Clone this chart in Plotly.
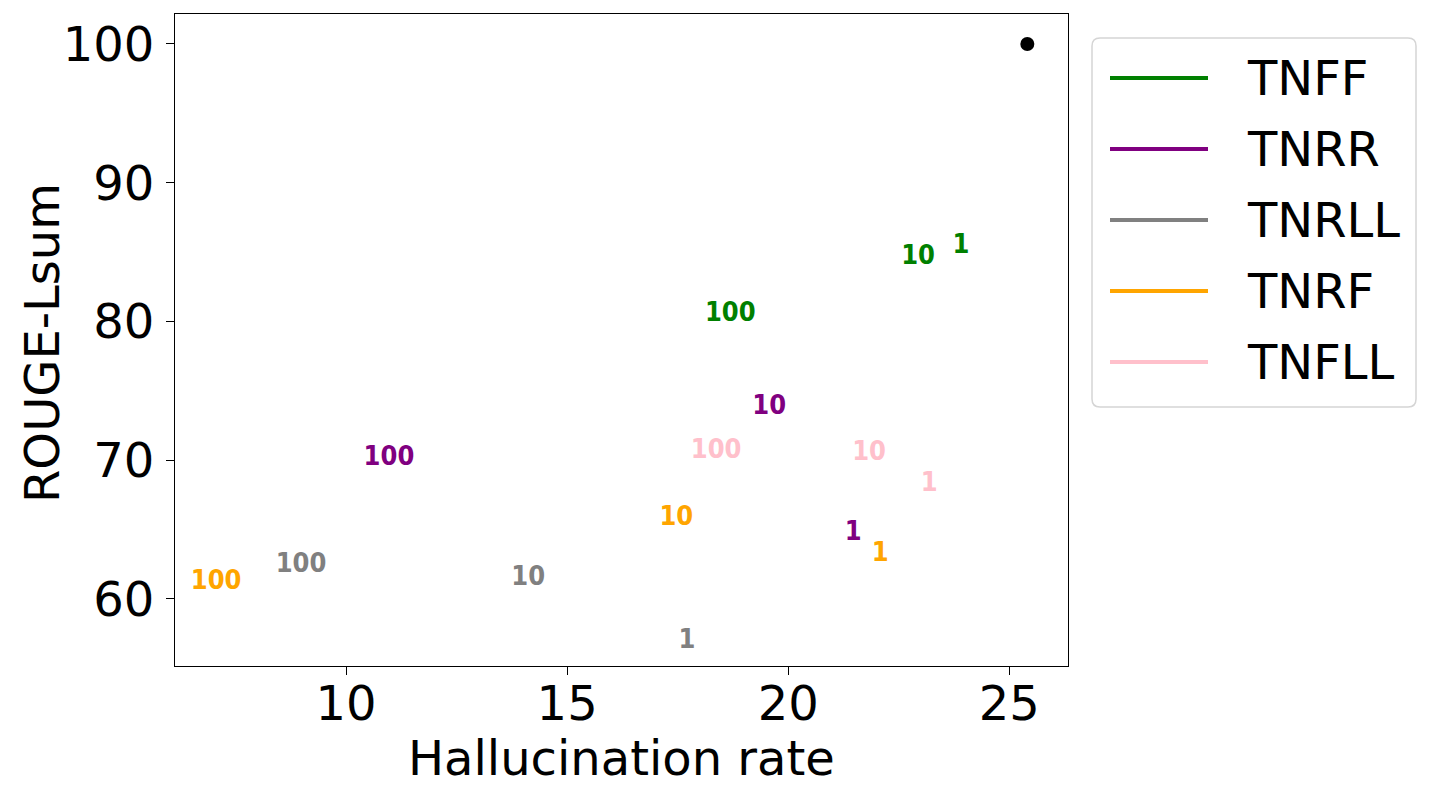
import plotly.graph_objects as go

# ---- data ----
series = ["TNFF", "TNRR", "TNRLL", "TNRF", "TNFLL"]
colors = ["green", "purple", "gray", "orange", "pink"]
point_labels = ["1", "10", "100"]
halluc = {
    "TNFF": [23.91, 22.94, 18.69],
    "TNRR": [21.47, 19.57, 10.97],
    "TNRLL": [17.71, 14.12, 8.98],
    "TNRF": [22.08, 17.47, 7.06],
    "TNFLL": [23.19, 21.83, 18.37],
}
rouge = {
    "TNFF": [85.45, 84.60, 80.55],
    "TNRR": [64.75, 73.85, 70.17],
    "TNRLL": [56.98, 61.52, 62.40],
    "TNRF": [63.25, 65.85, 61.23],
    "TNFLL": [68.30, 70.47, 70.67],
}
ref_x = [25.41]
ref_y = [100.0]
x_ticks = [10, 15, 20, 25]
y_ticks = [60, 70, 80, 90, 100]
x_title = "Hallucination rate"
y_title = "ROUGE-Lsum"

# ---- layout geometry (page pixels; page body has an 8px margin) ----
OFF = 8
W, H = 1431 - OFF, 797 - OFF
L, R, T, B = 175, 1068, 14, 666  # plot area in page pixels


def px(x):
    return (x - L) / (R - L)


def py(y):
    return (B - y) / (B - T)


fig = go.Figure()
label_font = dict(family="DejaVu Sans Condensed, DejaVu Sans", size=27, weight="bold")
for s, c in zip(series, colors):
    fig.add_trace(go.Scatter(
        x=halluc[s], y=rouge[s], mode="text", text=point_labels,
        textposition="middle center",
        textfont=dict(color=c, **label_font),
        name=s, showlegend=False, hoverinfo="skip",
    ))

fig.add_trace(go.Scatter(
    x=ref_x, y=ref_y, mode="markers",
    marker=dict(color="black", size=14), showlegend=False,
))

# ---- custom legend ----
lx0, lx1, ly0, ly1, rad = 1092, 1416, 38, 407, 8
x0, x1 = px(lx0), px(lx1)
y0, y1 = py(ly1), py(ly0)
rx = rad / (R - L)
ry = rad / (B - T)
path = (f"M {x0+rx},{y1} L {x1-rx},{y1} Q {x1},{y1} {x1},{y1-ry} "
        f"L {x1},{y0+ry} Q {x1},{y0} {x1-rx},{y0} "
        f"L {x0+rx},{y0} Q {x0},{y0} {x0},{y0+ry} "
        f"L {x0},{y1-ry} Q {x0},{y1} {x0+rx},{y1} Z")
fig.add_shape(type="path", path=path, xref="paper", yref="paper",
              line=dict(color="#d5d5d5", width=1.5), fillcolor="white",
              layer="above")
for i, (s, c) in enumerate(zip(series, colors)):
    yy = 78 + i * 71
    fig.add_shape(type="line", xref="paper", yref="paper",
                  x0=px(1110), x1=px(1208), y0=py(yy), y1=py(yy),
                  line=dict(color=c, width=4), layer="above")
    fig.add_annotation(x=px(1245), y=py(yy), xref="paper", yref="paper",
                       text=s, showarrow=False, xanchor="left", yanchor="middle",
                       font=dict(family="DejaVu Sans", size=48, color="black"))

title_font = dict(family="DejaVu Sans", size=48, color="black")
fig.add_annotation(x=0.5, y=py(758), xref="paper", yref="paper", text=x_title,
                   showarrow=False, xanchor="center", yanchor="middle", font=title_font)
fig.add_annotation(x=px(42), y=py(343), xref="paper", yref="paper", text=y_title,
                   showarrow=False, xanchor="center", yanchor="middle",
                   textangle=-90, font=title_font)

axis_common = dict(
    showgrid=False, zeroline=False, showline=True, linecolor="black",
    linewidth=1.3, mirror=True, ticks="outside", ticklen=8, tickwidth=1.3,
    tickcolor="black", tickfont=dict(family="DejaVu Sans", size=48, color="black"),
)
fig.update_xaxes(range=[6.13, 26.33], tickvals=x_ticks, ticklabelstandoff=-13,
                 **axis_common)
fig.update_yaxes(range=[55.17, 102.16], tickvals=y_ticks, ticklabelstandoff=2,
                 **axis_common)

fig.update_layout(
    width=W, height=H, autosize=False,
    margin=dict(l=L - OFF, r=W - (R - OFF), t=T - OFF, b=H - (B - OFF)),
    plot_bgcolor="white", paper_bgcolor="white",
    showlegend=False,
)
fig.write_html("out.html")
